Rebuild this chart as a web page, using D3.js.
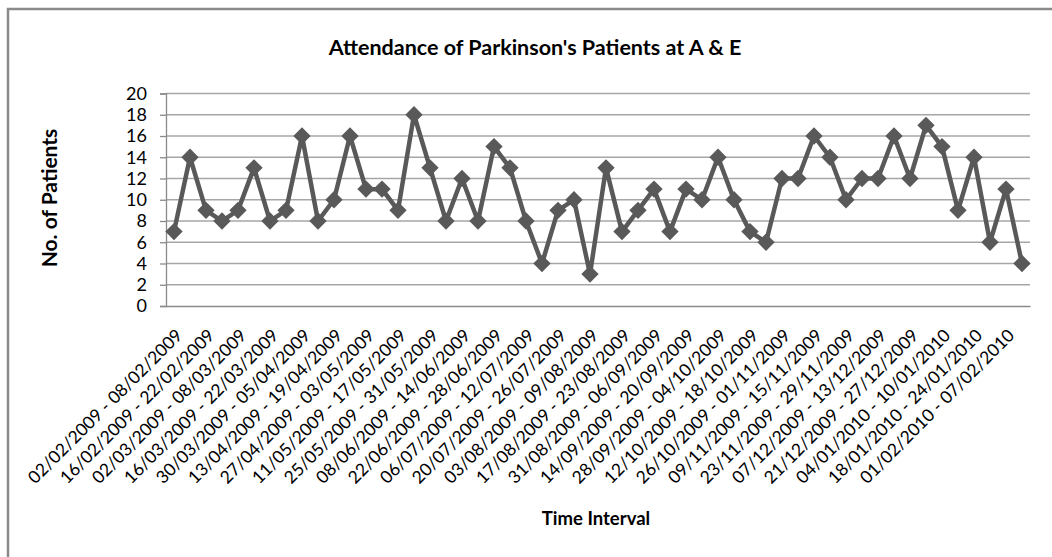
<!DOCTYPE html>
<html>
<head>
<meta charset="utf-8">
<script src="https://d3js.org/d3.v7.min.js"></script>
<style>
  body { margin: 0; background: #fff; }
  svg { display: block; }
  text { font-family: Lato, "Open Sans", sans-serif; fill: #000; }
</style>
</head>
<body>
<div id="chart"></div>
<script>
// weekly intervals (category axis)
var weeks = [
  "02/02/2009 - 08/02/2009", "09/02/2009 - 15/02/2009", "16/02/2009 - 22/02/2009",
  "23/02/2009 - 01/03/2009", "02/03/2009 - 08/03/2009", "09/03/2009 - 15/03/2009",
  "16/03/2009 - 22/03/2009", "23/03/2009 - 29/03/2009", "30/03/2009 - 05/04/2009",
  "06/04/2009 - 12/04/2009", "13/04/2009 - 19/04/2009", "20/04/2009 - 26/04/2009",
  "27/04/2009 - 03/05/2009", "04/05/2009 - 10/05/2009", "11/05/2009 - 17/05/2009",
  "18/05/2009 - 24/05/2009", "25/05/2009 - 31/05/2009", "01/06/2009 - 07/06/2009",
  "08/06/2009 - 14/06/2009", "15/06/2009 - 21/06/2009", "22/06/2009 - 28/06/2009",
  "29/06/2009 - 05/07/2009", "06/07/2009 - 12/07/2009", "13/07/2009 - 19/07/2009",
  "20/07/2009 - 26/07/2009", "27/07/2009 - 02/08/2009", "03/08/2009 - 09/08/2009",
  "10/08/2009 - 16/08/2009", "17/08/2009 - 23/08/2009", "24/08/2009 - 30/08/2009",
  "31/08/2009 - 06/09/2009", "07/09/2009 - 13/09/2009", "14/09/2009 - 20/09/2009",
  "21/09/2009 - 27/09/2009", "28/09/2009 - 04/10/2009", "05/10/2009 - 11/10/2009",
  "12/10/2009 - 18/10/2009", "19/10/2009 - 25/10/2009", "26/10/2009 - 01/11/2009",
  "02/11/2009 - 08/11/2009", "09/11/2009 - 15/11/2009", "16/11/2009 - 22/11/2009",
  "23/11/2009 - 29/11/2009", "30/11/2009 - 06/12/2009", "07/12/2009 - 13/12/2009",
  "14/12/2009 - 20/12/2009", "21/12/2009 - 27/12/2009", "28/12/2009 - 03/01/2010",
  "04/01/2010 - 10/01/2010", "11/01/2010 - 17/01/2010", "18/01/2010 - 24/01/2010",
  "25/01/2010 - 31/01/2010", "01/02/2010 - 07/02/2010", "08/02/2010 - 14/02/2010"
];

// patients per week
var patients = [
  7, 14, 9, 8, 9, 13, 8, 9, 16, 8, 10, 16, 11, 11, 9, 18, 13, 8,
  12, 8, 15, 13, 8, 4, 9, 10, 3, 13, 7, 9, 11, 7, 11, 10, 14, 10,
  7, 6, 12, 12, 16, 14, 10, 12, 12, 16, 12, 17, 15, 9, 14, 6, 11, 4
];

var yTicks = [0, 2, 4, 6, 8, 10, 12, 14, 16, 18, 20];

var W = 1052, H = 557;
var plotL = 166, plotR = 1030, plotT = 93.5, plotB = 306;

var svg = d3.select("#chart").append("svg").attr("width", W).attr("height", H);

// chart area border (only top/left are in view)
svg.append("path")
  .attr("d", "M8," + (H + 5) + "V9H" + (W + 5))
  .attr("fill", "none").attr("stroke", "#8a8a8a").attr("stroke-width", 2.5);

var x = d3.scaleBand().domain(weeks).range([plotL, plotR]).padding(0);
var y = d3.scaleLinear().domain([0, 20]).range([plotB, plotT]);

// gridlines
svg.append("g")
  .selectAll("line").data(yTicks.slice(1)).enter().append("line")
  .attr("x1", plotL).attr("x2", plotR)
  .attr("y1", function(d) { return y(d); }).attr("y2", function(d) { return y(d); })
  .attr("stroke", "#a6a6a6").attr("stroke-width", 1.3);

// y axis
var yAxis = svg.append("g")
  .attr("transform", "translate(" + plotL + ",0)")
  .call(d3.axisLeft(y).tickValues(yTicks).tickSize(6).tickPadding(13));
yAxis.select(".domain").attr("stroke", "#8a8a8a").attr("stroke-width", 1.3);
yAxis.selectAll(".tick line").attr("stroke", "#8a8a8a").attr("stroke-width", 1.3);
yAxis.selectAll(".tick text").style("font-size", "18px").style("font-family", "Lato").attr("fill", "#000");

// x axis
var xAxis = svg.append("g")
  .attr("transform", "translate(0," + plotB + ")")
  .call(d3.axisBottom(x)
    .tickValues(weeks.filter(function(d, i) { return i % 2 == 0; }))
    .tickSize(0).tickSizeOuter(0));
xAxis.select(".domain").attr("stroke", "#8a8a8a").attr("stroke-width", 1.3);
xAxis.selectAll(".tick text")
  .attr("text-anchor", "end")
  .attr("x", 0).attr("y", 0).attr("dy", 0)
  .attr("transform", "translate(9.5,30.5) rotate(-45)")
  .style("font-size", "17.5px").style("font-family", "Lato").attr("fill", "#000");

// line
var line = d3.line()
  .x(function(d, i) { return x(weeks[i]) + x.bandwidth() / 2; })
  .y(function(d) { return y(d); });

svg.append("path")
  .datum(patients)
  .attr("d", line)
  .attr("fill", "none")
  .attr("stroke", "#595959")
  .attr("stroke-width", 4.5)
  .attr("stroke-linejoin", "round");

// diamond markers
svg.append("g")
  .selectAll("path").data(patients).enter().append("path")
  .attr("d", d3.symbol().type(d3.symbolSquare).size(150))
  .attr("transform", function(d, i) {
    return "translate(" + (x(weeks[i]) + x.bandwidth() / 2) + "," + y(d) + ") rotate(45)";
  })
  .attr("fill", "#595959");

// titles
svg.append("text")
  .attr("x", 535).attr("y", 55)
  .attr("text-anchor", "middle")
  .style("font-size", "21.5px").style("font-weight", "bold")
  .text("Attendance of Parkinson's Patients at A & E");

svg.append("text")
  .attr("transform", "translate(57,198) rotate(-90)")
  .attr("text-anchor", "middle")
  .style("font-size", "21px").style("font-weight", "bold")
  .text("No. of Patients");

svg.append("text")
  .attr("x", 596).attr("y", 525)
  .attr("text-anchor", "middle")
  .style("font-size", "18.5px").style("font-weight", "bold")
  .text("Time Interval");
</script>
</body>
</html>
